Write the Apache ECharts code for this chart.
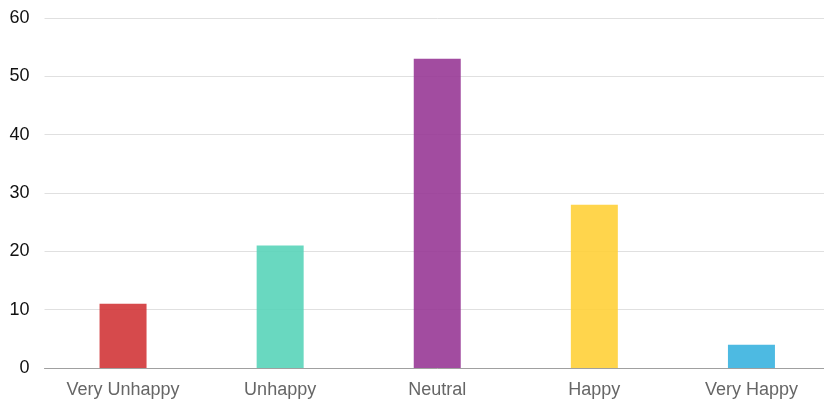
<!DOCTYPE html>
<html>
<head>
<meta charset="utf-8">
<script src="https://cdn.jsdelivr.net/npm/echarts@6/dist/echarts.min.js"></script>
<style>
html,body{margin:0;padding:0;background:#fff;overflow:hidden;width:824px;height:406px;}
#main{width:830px;height:406px;}
</style>
</head>
<body>
<div id="main"></div>
<script>
var categories = ['Very Unhappy', 'Unhappy', 'Neutral', 'Happy', 'Very Happy'];
var values = [11, 21, 53, 28, 4];
var barColors = ['rgb(209,54,57)', 'rgb(89,212,185)', 'rgb(152,57,150)', 'rgb(255,208,56)', 'rgb(58,179,223)'];
var yTicks = [0, 10, 20, 30, 40, 50, 60];

var chart = echarts.init(document.getElementById('main'), null, {renderer: 'canvas'});
chart.setOption({
  animation: false,
  grid: {left: 44.5, top: 18, bottom: 38, right: 0, containLabel: false},
  xAxis: {
    type: 'category',
    data: categories,
    axisLine: {lineStyle: {color: '#a0a0a0', width: 1}},
    axisTick: {alignWithLabel: true, length: 5, lineStyle: {color: '#a0a0a0'}},
    axisLabel: {color: '#666', fontSize: 18, fontFamily: 'Liberation Sans, Arial, sans-serif', margin: 13}
  },
  yAxis: {
    type: 'value',
    min: yTicks[0],
    max: yTicks[yTicks.length - 1],
    interval: 10,
    axisLine: {show: false},
    axisTick: {show: false},
    splitLine: {lineStyle: {color: '#e0e0e0', width: 1}},
    axisLabel: {color: '#111', fontSize: 18, fontFamily: 'Liberation Sans, Arial, sans-serif', margin: 15}
  },
  series: [{
    type: 'bar',
    barWidth: 47,
    data: values.map(function (v, i) {
      return {value: v, itemStyle: {color: barColors[i], opacity: 0.9}};
    })
  }]
});
</script>
</body>
</html>
